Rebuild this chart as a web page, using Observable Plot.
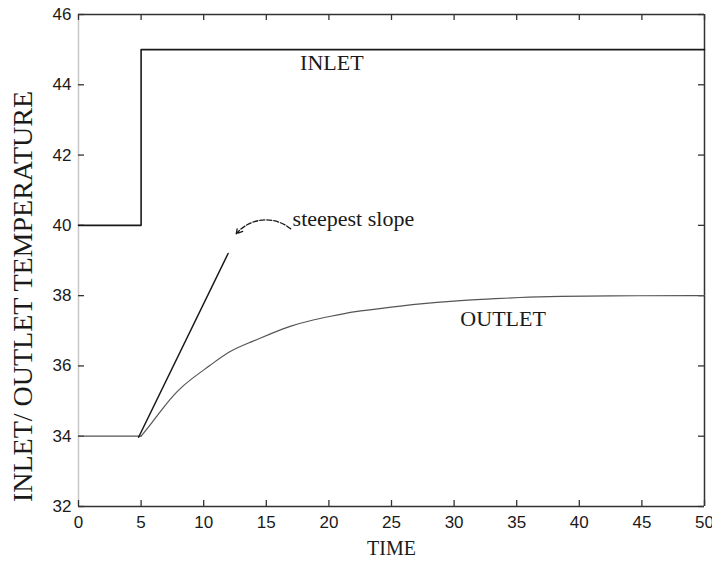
<!DOCTYPE html>
<html>
<head>
<meta charset="utf-8">
<script src="https://cdn.jsdelivr.net/npm/d3@7"></script>
<script src="https://cdn.jsdelivr.net/npm/@observablehq/plot@0.6"></script>
<style>
  html, body { margin: 0; padding: 0; background: #fff; }
  #chart svg { display: block; }
</style>
</head>
<body>
<div id="chart"></div>
<script>
// Step change at the inlet (time, temperature)
const inletTime = [0, 5, 5, 50];
const inletTemp = [40, 40, 45, 45];

// Outlet response to the step
const outletTime = [0, 5, 5.8, 6.8, 7.9, 9.0, 10.5, 12.1, 13.8, 15.3, 17.0, 18.5, 20.1, 22.0, 24.7, 27.3, 30.0, 32.6, 35.3, 37.7, 45, 50];
const outletTemp = [34, 34, 34.35, 34.83, 35.30, 35.63, 36.01, 36.44, 36.68, 36.91, 37.15, 37.29, 37.41, 37.55, 37.66, 37.77, 37.85, 37.90, 37.95, 37.98, 38.0, 38.0];

// Tangent drawn at the steepest slope
const slopeTime = [4.8, 11.95];
const slopeTemp = [33.97, 39.2];

// Tick values
const xTicks = [0, 5, 10, 15, 20, 25, 30, 35, 40, 45, 50];
const yTicks = [32, 34, 36, 38, 40, 42, 44, 46];

// Annotations
const labels = [
  {text: "INLET", x: 17.7, y: 44.41},
  {text: "OUTLET", x: 30.5, y: 37.15},
  {text: "steepest slope", x: 17.1, y: 39.97}
];
const pointer = [{x1: 16.95, y1: 39.9, x2: 12.6, y2: 39.76}];

const stepAt = 5;
const inlet = inletTime.map((t, i) => ({t, v: inletTemp[i]}));
const outlet = outletTime.map((t, i) => ({t, v: outletTemp[i]}));
const outletBefore = outlet.filter(d => d.t <= stepAt);
const outletAfter = outlet.filter(d => d.t >= stepAt);
const slope = slopeTime.map((t, i) => ({t, v: slopeTemp[i]}));

const serif = "'Liberation Serif', 'Times New Roman', serif";
const ink = "#1a1a1a";

const chart = Plot.plot({
  width: 712,
  height: 562,
  marginLeft: 78,
  marginRight: 8,
  marginTop: 14,
  marginBottom: 56,
  style: {fontFamily: "'Liberation Sans', Arial, sans-serif", fontSize: "17px", color: ink, background: "#fff"},
  x: {domain: [0, 50]},
  y: {domain: [32, 46]},
  marks: [
    // box
    Plot.ruleX([0], {stroke: "#c8c8c8", strokeWidth: 1.5}),
    Plot.ruleX([50], {stroke: "#333", strokeWidth: 1.5}),
    Plot.ruleY([32, 46], {stroke: "#333", strokeWidth: 1.5}),
    // inward ticks on all four sides
    Plot.ruleX(xTicks, {insetTop: 486, stroke: "#333", strokeWidth: 1.3}),
    Plot.ruleX(xTicks, {insetBottom: 486, stroke: "#333", strokeWidth: 1.3}),
    Plot.ruleY(yTicks, {insetRight: 620, stroke: "#333", strokeWidth: 1.3}),
    Plot.ruleY(yTicks, {insetLeft: 620, stroke: "#333", strokeWidth: 1.3}),
    Plot.axisX(xTicks, {tickSize: 0, tickPadding: 9, label: null}),
    Plot.axisY(yTicks, {tickSize: 0, tickPadding: 7, label: null}),
    // curves
    Plot.line(inlet, {x: "t", y: "v", stroke: ink, strokeWidth: 1.6}),
    Plot.line(outletBefore, {x: "t", y: "v", stroke: "#555", strokeWidth: 1.2}),
    Plot.line(outletAfter, {x: "t", y: "v", stroke: "#555", strokeWidth: 1.2, curve: "basis"}),
    Plot.line(slope, {x: "t", y: "v", stroke: ink, strokeWidth: 1.5}),
    Plot.arrow(pointer, {x1: "x1", y1: "y1", x2: "x2", y2: "y2", bend: -45, stroke: ink, strokeWidth: 1.3, strokeDasharray: "5,2", headLength: 8}),
    Plot.text(labels, {x: "x", y: "y", text: "text", textAnchor: "start", lineAnchor: "bottom", fontFamily: serif, fontSize: 22, fill: ink}),
    // axis titles
    Plot.text(["TIME"], {frameAnchor: "bottom", dy: 48, lineAnchor: "bottom", fontFamily: serif, fontSize: 20, fill: ink}),
    Plot.text(["INLET/ OUTLET TEMPERATURE"], {frameAnchor: "left", textAnchor: "middle", lineAnchor: "middle", rotate: -90, dx: -55, dy: 36, fontFamily: serif, fontSize: 28, fill: ink})
  ]
});

document.getElementById("chart").append(chart);
</script>
</body>
</html>
